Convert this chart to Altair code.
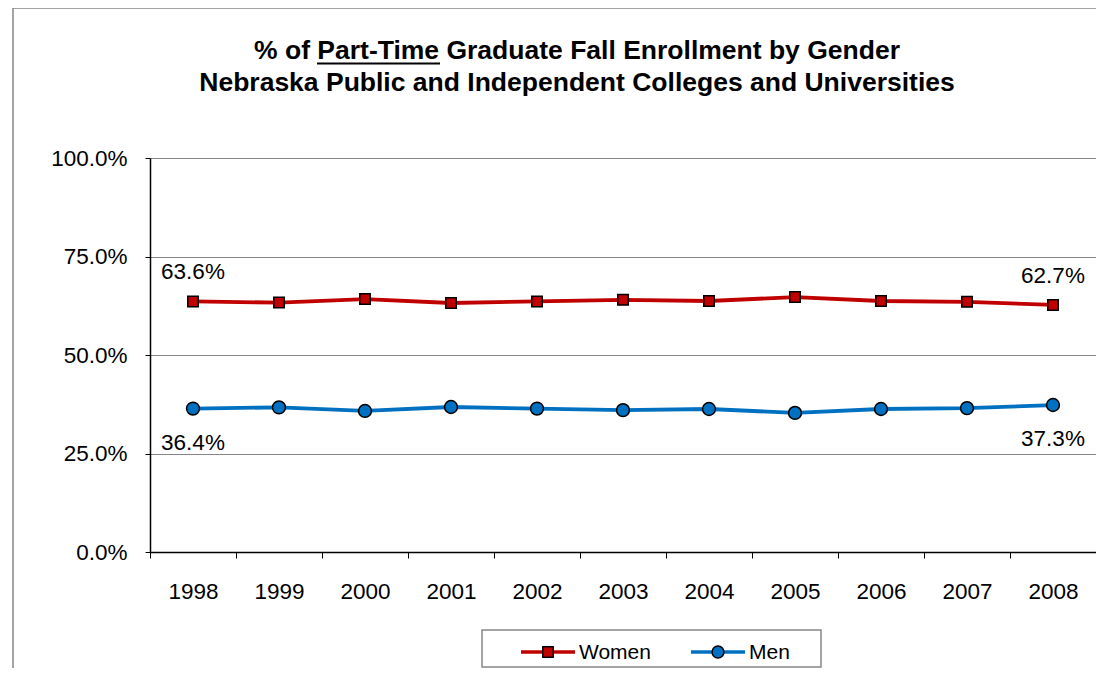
import altair as alt
import pandas as pd

# ---- data ----
YEARS = ["1998", "1999", "2000", "2001", "2002", "2003", "2004", "2005", "2006", "2007", "2008"]
WOMEN = [63.6, 63.3, 64.2, 63.2, 63.6, 64.0, 63.7, 64.7, 63.7, 63.5, 62.7]
MEN = [36.4, 36.7, 35.8, 36.8, 36.4, 36.0, 36.3, 35.3, 36.3, 36.5, 37.3]
SERIES = ["Women", "Men"]
Y_TICKS = [0.0, 0.25, 0.5, 0.75, 1.0]
TITLE_LINES = [
    "% of Part-Time Graduate Fall Enrollment by Gender",
    "Nebraska Public and Independent Colleges and Universities",
]

rows = []
for s, vals in zip(SERIES, [WOMEN, MEN]):
    for yr, v in zip(YEARS, vals):
        rows.append({"year": yr, "series": s, "share": v / 100.0})
df = pd.DataFrame(rows)

FONT = "Liberation Sans"
RED = "#C00000"
BLUE = "#0070C0"
GRAY = "#868686"
W, H = 946, 394

color = alt.Color("series:N", scale=alt.Scale(domain=SERIES, range=[RED, BLUE]), legend=None)

x = alt.X(
    "year:O",
    bandPosition=0.5,
    scale=alt.Scale(type="band", domain=YEARS, paddingInner=0, paddingOuter=0),
    axis=alt.Axis(
        title=None, labelAngle=0, tickBand="extent", tickSize=6, tickColor="#000",
        tickWidth=1, domainColor="#000", domainWidth=1.5, labelFontSize=22.5,
        labelFont=FONT, labelColor="#000", labelPadding=22, grid=False,
    ),
)
y = alt.Y(
    "share:Q",
    scale=alt.Scale(domain=[0, 1]),
    axis=alt.Axis(
        title=None, values=Y_TICKS, format=".1%", tickSize=5, tickColor="#000",
        domainColor="#000", domainWidth=1.5, gridColor=GRAY, gridWidth=1,
        labelFontSize=22.5, labelFont=FONT, labelColor="#000", labelPadding=18,
    ),
)

base = alt.Chart(df)
one = alt.Data(values=[{}])

frame = alt.Chart(one).mark_rect(fill=None, stroke=GRAY, strokeWidth=1.5).encode(
    x=alt.value(-137), x2=alt.value(1000), y=alt.value(-150), y2=alt.value(700)
)

lines = base.mark_line(strokeWidth=3.8).encode(x=x, y=y, color=color)
points = base.mark_point(filled=True, stroke="black", strokeWidth=1.5, opacity=1).encode(
    x=x, y=y, color=color,
    shape=alt.Shape("series:N", scale=alt.Scale(domain=SERIES, range=["square", "circle"]), legend=None),
    size=alt.Size("series:N", scale=alt.Scale(domain=SERIES, range=[110, 165]), legend=None),
)

ends = [YEARS[0], YEARS[-1]]
lab_w = base.transform_filter(alt.FieldOneOfPredicate(field="year", oneOf=ends)).transform_filter(
    alt.datum.series == SERIES[0]
).mark_text(font=FONT, fontSize=22.5, color="#000", dy=-22, baseline="alphabetic").encode(
    x=x, y=y, text=alt.Text("share:Q", format=".1%")
)
lab_m = base.transform_filter(alt.FieldOneOfPredicate(field="year", oneOf=ends)).transform_filter(
    alt.datum.series == SERIES[1]
).mark_text(font=FONT, fontSize=22.5, color="#000", dy=41, baseline="alphabetic").encode(
    x=x, y=y, text=alt.Text("share:Q", format=".1%")
)

# title as two centred text lines, with "Part-Time" underlined
TX = 427
title1 = alt.Chart(one).mark_text(font=FONT, fontSize=26.5, fontWeight="bold", color="#000",
                                  align="center", baseline="alphabetic", text=TITLE_LINES[0]).encode(
    x=alt.value(TX), y=alt.value(-99))
title2 = alt.Chart(one).mark_text(font=FONT, fontSize=26.5, fontWeight="bold", color="#000",
                                  align="center", baseline="alphabetic", text=TITLE_LINES[1]).encode(
    x=alt.value(TX), y=alt.value(-67))
underline = alt.Chart(one).mark_rule(color="#000", strokeWidth=2.2).encode(
    x=alt.value(167), x2=alt.value(290), y=alt.value(-94.5)
)

# legend box
LY = 494
leg_box = alt.Chart(one).mark_rect(fill="white", stroke=GRAY, strokeWidth=1.5).encode(
    x=alt.value(332), x2=alt.value(671), y=alt.value(472), y2=alt.value(509)
)
leg_layers = []
for s, col, shp, sz, x0 in [(SERIES[0], RED, "square", 110, 371), (SERIES[1], BLUE, "circle", 140, 541)]:
    leg_layers.append(alt.Chart(one).mark_rule(color=col, strokeWidth=3.5).encode(
        x=alt.value(x0), x2=alt.value(x0 + 54), y=alt.value(LY)))
    leg_layers.append(alt.Chart(one).mark_point(filled=True, fill=col, stroke="black", strokeWidth=1.5,
                                                 shape=shp, size=sz, opacity=1).encode(
        x=alt.value(x0 + 27), y=alt.value(LY)))
    leg_layers.append(alt.Chart(one).mark_text(font=FONT, fontSize=21, color="#000", align="left",
                                                baseline="middle", text=s).encode(
        x=alt.value(x0 + 58), y=alt.value(LY + 1)))

chart = alt.layer(frame, lines, points, lab_w, lab_m, title1, title2, underline, leg_box, *leg_layers).properties(
    width=W, height=H,
    autosize=alt.AutoSizeParams(type="none"),
    padding={"left": 142, "top": 150, "right": 0, "bottom": 116},
).configure_view(stroke=GRAY, strokeWidth=1.5).configure(background="white")

chart.save("out.html", embed_options={"renderer": "svg", "actions": False})
